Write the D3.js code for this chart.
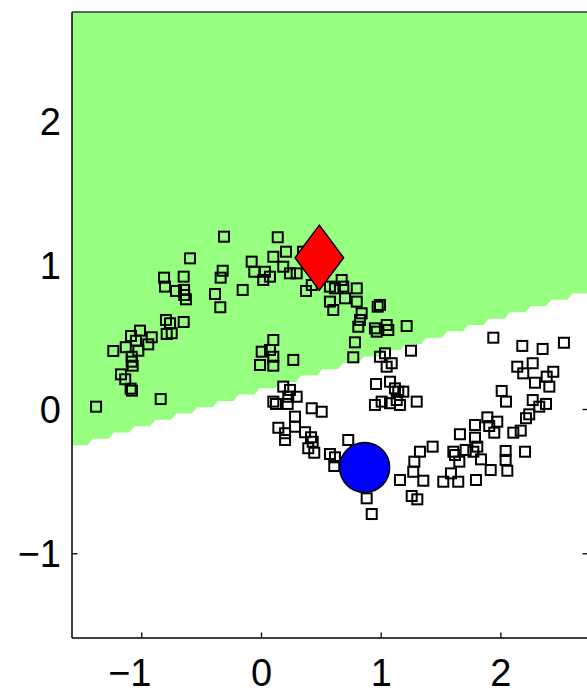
<!DOCTYPE html>
<html>
<head>
<meta charset="utf-8">
<script src="https://cdn.jsdelivr.net/npm/d3@7"></script>
<style>
  html, body { margin: 0; padding: 0; background: #fff; }
  svg { display: block; }
  text { font-family: "Liberation Sans", Arial, Helvetica, sans-serif; }
</style>
</head>
<body>
<svg id="chart" width="587" height="695"></svg>
<script>
// ---------------- data ----------------
const xDomain = [-1.579, 2.732];
const yDomain = [-1.587, 2.751];
const xTicks = [-1, 0, 1, 2];
const yTicks = [-1, 0, 1, 2];

// unlabeled points (two moons)
const ptsX = [
  -0.309,-0.593,-0.078,-0.056,-0.320,-0.337,-0.810,-0.802,-0.646,-0.643,-0.710,-0.627,-0.641,-0.384,-0.153,-0.340,
  -0.794,-0.760,-0.788,-0.746,-0.646,-1.011,-1.086,-0.913,-0.942,-1.044,-1.130,-1.025,-1.234,-1.080,-1.080,-1.072,
  -1.170,-1.134,-1.089,-1.078,-0.838,-1.378,
  0.140,0.103,0.209,0.033,0.019,0.075,0.186,0.242,0.298,0.351,0.376,0.424,0.576,0.618,0.674,0.688,0.800,0.576,
  0.604,0.702,0.800,0.841,0.827,0.813,0.994,0.975,0.952,0.967,1.050,1.064,1.217,0.103,0.006,0.075,0.103,-0.008,
  0.103,0.270,0.785,0.771,0.994,1.036,1.092,1.050,1.253,0.961,1.078,1.119,1.147,1.134,1.189,0.952,1.008,1.161,
  1.301,0.186,0.242,0.228,0.103,0.298,0.424,0.507,0.284,0.125,0.223,0.145,0.284,0.201,0.201,0.368,0.418,0.432,
  0.395,0.445,0.576,0.618,0.612,0.729,0.883,0.925,1.078,
  1.434,1.328,1.281,1.272,1.161,1.356,1.259,1.306,1.523,1.941,2.183,2.353,2.531,2.141,2.191,2.270,2.289,2.387,
  2.442,2.409,2.011,2.047,2.270,2.325,2.381,2.241,2.214,2.170,2.108,1.891,1.974,1.907,1.949,1.788,1.662,1.788,
  1.807,1.774,1.710,1.607,1.621,1.657,1.838,1.919,1.796,1.648,1.587,2.044,2.044,2.058,2.206
];
const ptsY = [
  1.194,1.044,1.021,0.951,0.958,0.910,0.910,0.848,0.917,0.825,0.818,0.760,0.790,0.797,0.825,0.705,
  0.617,0.594,0.520,0.525,0.603,0.543,0.506,0.497,0.448,0.473,0.428,0.404,0.402,0.362,0.328,0.300,
  0.240,0.206,0.141,0.127,0.069,0.016,
  1.190,1.055,1.090,0.951,0.894,0.917,0.986,0.940,0.940,1.090,0.818,0.859,0.848,0.836,0.894,0.848,0.836,0.744,
  0.686,0.767,0.744,0.663,0.617,0.570,0.721,0.709,0.559,0.536,0.582,0.547,0.575,0.478,0.397,0.409,0.362,0.305,
  0.300,0.340,0.462,0.358,0.362,0.386,0.317,0.293,0.404,0.173,0.189,0.143,0.120,0.062,0.120,0.028,0.051,0.028,
  0.051,0.155,0.132,0.085,0.051,0.085,0.005,-0.019,-0.053,0.035,0.035,-0.130,-0.123,-0.168,-0.215,-0.161,-0.196,-0.227,
  -0.272,-0.303,-0.312,-0.335,-0.395,-0.215,-0.619,-0.728,0.040,
  -0.261,-0.296,-0.365,-0.435,-0.492,-0.497,-0.603,-0.626,-0.504,0.494,0.437,0.416,0.459,0.293,0.247,0.317,0.182,0.224,
  0.258,0.155,0.125,0.051,0.062,0.016,0.035,-0.037,-0.064,-0.150,-0.164,-0.058,-0.088,-0.118,-0.164,-0.111,-0.175,-0.199,
  -0.261,-0.296,-0.284,-0.296,-0.319,-0.365,-0.349,-0.423,-0.492,-0.504,-0.446,-0.291,-0.353,-0.428,-0.296
];

// labeled points
const labeledRed = [0.487, 1.048];   // diamond
const labeledBlue = [0.866, -0.405]; // circle

// linear decision boundary y = b0 + b1*x evaluated on a grid
const boundary = [0.13, 0.25];
const gridN = 100;

// ---------------- drawing ----------------
const svg = d3.select("#chart");
const L = 72, R = 588, T = 12, B = 638;
const x = d3.scaleLinear().domain(xDomain).range([L, R]);
const y = d3.scaleLinear().domain(yDomain).range([B, T]);
const fontSize = 38;
const tickLen = 5.5;

svg.append("rect").attr("width", 587).attr("height", 695).attr("fill", "#fff");

// ticks (drawn under the region fill)
function styleAxis(g) {
  g.select(".domain").remove();
  g.selectAll(".tick line").attr("stroke", "#000").attr("stroke-width", 1.3);
  g.selectAll("text").attr("fill", "#000").style("font-size", fontSize + "px")
    .style("font-family", '"Liberation Sans", Arial, Helvetica, sans-serif');
}
const fmt = d3.format("d");
svg.append("g").attr("transform", `translate(0,${B})`)
  .call(d3.axisBottom(x).tickValues(xTicks).tickFormat(fmt).tickSizeInner(-tickLen).tickSizeOuter(0).tickPadding(21))
  .call(styleAxis)
  .call(g => g.selectAll("text").attr("dx", d => d < 0 ? "-12px" : 0));
svg.append("g").attr("transform", `translate(0,${T})`)
  .call(d3.axisTop(x).tickValues(xTicks).tickFormat("").tickSizeInner(-tickLen).tickSizeOuter(0))
  .call(styleAxis);
svg.append("g").attr("transform", `translate(${L},0)`)
  .call(d3.axisLeft(y).tickValues(yTicks).tickFormat(fmt).tickSizeInner(-tickLen).tickSizeOuter(0).tickPadding(11))
  .call(styleAxis)
  .call(g => g.selectAll("text").attr("dy", "0.36em"));
svg.append("g").attr("transform", `translate(${R},0)`)
  .call(d3.axisRight(y).tickValues(yTicks).tickFormat("").tickSizeInner(-tickLen).tickSizeOuter(0))
  .call(styleAxis);

// region fill from grid classification
svg.append("clipPath").attr("id", "plotclip")
  .append("rect").attr("x", L).attr("y", T).attr("width", R - L).attr("height", B - T);
const dxg = (xDomain[1] - xDomain[0]) / (gridN - 1);
const dyg = (yDomain[1] - yDomain[0]) / (gridN - 1);
const values = new Array(gridN * gridN);
for (let j = 0; j < gridN; j++) {
  const gy = yDomain[1] - j * dyg;
  for (let i = 0; i < gridN; i++) {
    const gx = xDomain[0] + i * dxg;
    values[j * gridN + i] = gy > boundary[0] + boundary[1] * gx ? 1 : 0;
  }
}
const contour = d3.contours().size([gridN, gridN]).thresholds([0.5])(values);
const proj = d3.geoTransform({
  point(px, py) {
    this.stream.point(x(xDomain[0] + (px - 0.5) * dxg), y(yDomain[1] - (py - 0.5) * dyg));
  }
});
svg.append("g").attr("clip-path", "url(#plotclip)")
  .selectAll("path").data(contour).join("path")
  .attr("d", d3.geoPath(proj))
  .attr("fill", "rgb(150,255,128)")
  .attr("stroke", "none");

// box lines
const box = svg.append("g").attr("stroke", "#000").attr("stroke-width", 1.5).attr("fill", "none");
box.append("line").attr("x1", L).attr("x2", L).attr("y1", T).attr("y2", B);
box.append("line").attr("x1", L).attr("x2", R).attr("y1", B).attr("y2", B);
box.append("line").attr("x1", L).attr("x2", R).attr("y1", T).attr("y2", T).attr("stroke", "#333");
box.append("line").attr("x1", R).attr("x2", R).attr("y1", T).attr("y2", B);

// points
const sq = 10;
svg.append("g").selectAll("rect").data(d3.range(ptsX.length)).join("rect")
  .attr("x", i => x(ptsX[i]) - sq / 2)
  .attr("y", i => y(ptsY[i]) - sq / 2)
  .attr("width", sq).attr("height", sq)
  .attr("fill", "none").attr("stroke", "#000").attr("stroke-width", 2);

// labeled diamond
const dw = 24.3, dh = 32.6;
svg.append("path")
  .attr("transform", `translate(${x(labeledRed[0])},${y(labeledRed[1])})`)
  .attr("d", `M0,${-dh}L${dw},0L0,${dh}L${-dw},0Z`)
  .attr("fill", "#ff0000").attr("stroke", "#000").attr("stroke-width", 1.5);

// labeled circle
svg.append("circle")
  .attr("cx", x(labeledBlue[0])).attr("cy", y(labeledBlue[1])).attr("r", 25)
  .attr("fill", "#0000ff").attr("stroke", "#000").attr("stroke-width", 1.5);
</script>
</body>
</html>
